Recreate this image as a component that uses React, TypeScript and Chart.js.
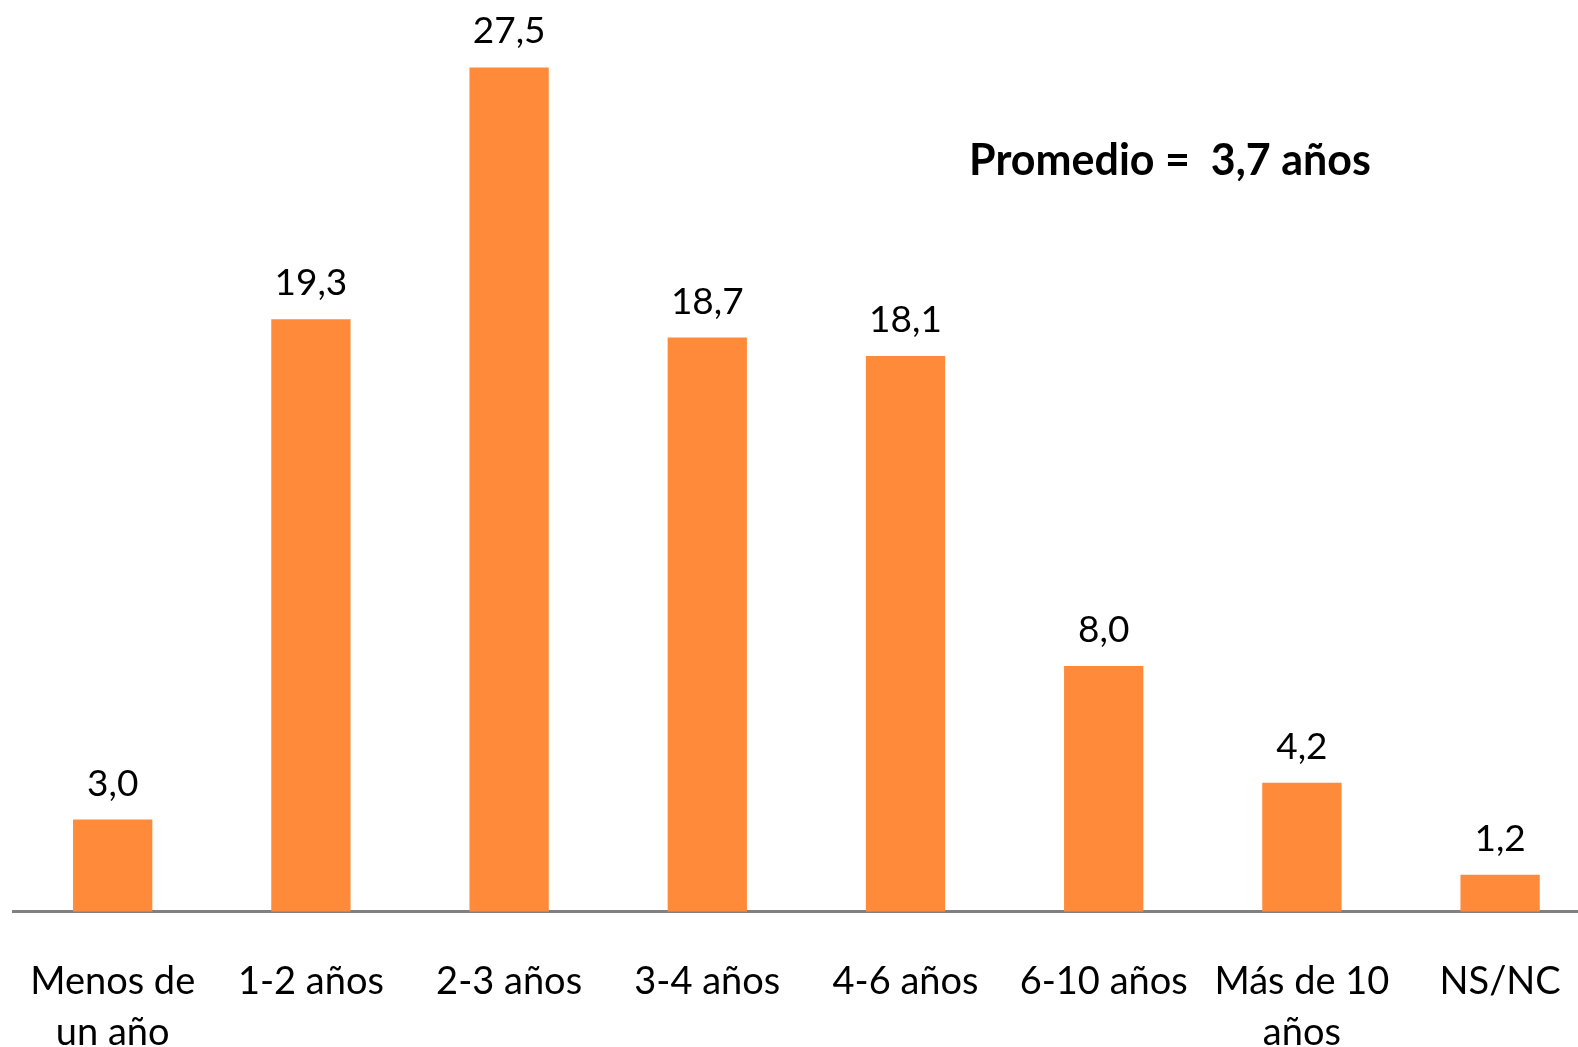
import React, { useEffect, useRef } from "react";
import { Chart, registerables } from "chart.js";

Chart.register(...registerables);

const categories: (string | string[])[] = [
  ["Menos de", "un año"],
  "1-2 años",
  "2-3 años",
  "3-4 años",
  "4-6 años",
  "6-10 años",
  ["Más de 10", "años"],
  "NS/NC",
];
const values = [3.0, 19.3, 27.5, 18.7, 18.1, 8.0, 4.2, 1.2];
const annotationText = "Promedio =  3,7 años";
const FONT = "Lato, 'Open Sans', sans-serif";

const fmt = (v: number) => v.toFixed(1).replace(".", ",");

export default function App() {
  const ref = useRef<HTMLCanvasElement | null>(null);
  useEffect(() => {
    document.body.style.margin = "0";
    document.body.style.overflow = "hidden";
    const labelPlugin = {
      id: "valueLabels",
      afterDatasetsDraw(chart: any) {
        const ctx = chart.ctx;
        const meta = chart.getDatasetMeta(0);
        ctx.save();
        ctx.fillStyle = "#000";
        ctx.font = `37px ${FONT}`;
        ctx.textAlign = "center";
        ctx.textBaseline = "alphabetic";
        meta.data.forEach((bar: any, i: number) => {
          ctx.fillText(fmt(values[i]), bar.x, bar.y - 24);
        });
        ctx.font = `bold 43px ${FONT}`;
        ctx.textBaseline = "middle";
        ctx.fillText(annotationText, 1170, 161);
        ctx.restore();
      },
    };
    const chart = new Chart(ref.current!, {
      type: "bar",
      data: {
        labels: categories,
        datasets: [
          {
            data: values,
            backgroundColor: "#fe8a3a",
            barPercentage: 0.4,
            categoryPercentage: 1,
          },
        ],
      },
      options: {
        animation: false,
        responsive: false,
        maintainAspectRatio: false,
        layout: { padding: { top: 6, left: 13.6, right: 10.8, bottom: 0 } },
        plugins: { legend: { display: false }, tooltip: { enabled: false } },
        scales: {
          x: {
            grid: { display: false, drawTicks: false },
            border: { display: true, color: "#808080", width: 3 },
            afterFit: (scale: any) => {
              scale.paddingLeft = 0;
              scale.paddingRight = 0;
            },
            ticks: {
              color: "#000",
              padding: 44,
              autoSkip: false,
              maxRotation: 0,
              font: { family: FONT, size: 38, lineHeight: 1.36 },
            },
          },
          y: { display: false, min: 0, max: 29.5 },
        },
      },
      plugins: [labelPlugin],
    });
    return () => chart.destroy();
  }, []);
  return (
    <div style={{ width: 1578, height: 1047, overflow: "hidden", position: "relative" }}>
      <canvas ref={ref} width={1610} height={1103} style={{ position: "absolute", left: 0, top: 0 }} />
    </div>
  );
}
